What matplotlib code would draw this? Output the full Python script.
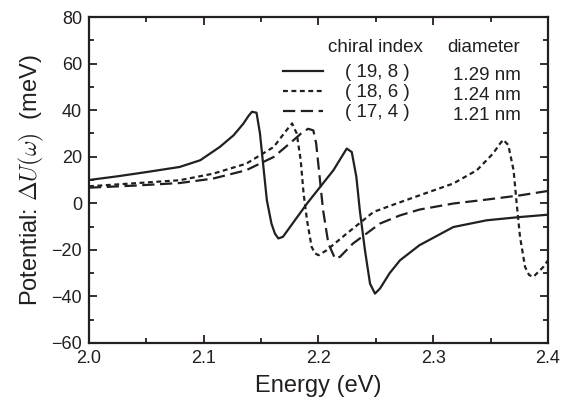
import matplotlib
matplotlib.use("Agg")
import matplotlib.pyplot as plt

plt.rcParams['font.family'] = ['Liberation Sans', 'DejaVu Sans']
plt.rcParams['mathtext.fontset'] = 'cm'

# (19, 8) - solid
e_198 = [2.000, 2.025, 2.050, 2.079, 2.097, 2.114, 2.126, 2.1345, 2.139, 2.142, 2.146,
         2.149, 2.152, 2.155, 2.159, 2.162, 2.165, 2.169, 2.190, 2.213, 2.2246, 2.229,
         2.233, 2.236, 2.2405, 2.2449, 2.2492, 2.2536, 2.262, 2.271, 2.288, 2.3175,
         2.3466, 2.3756, 2.400]
u_198 = [10.0, 11.6, 13.4, 15.6, 18.5, 24.2, 29.2, 34.2, 37.5, 39.3, 38.9,
         30.0, 15.6, 1.3, -8.7, -13.0, -15.1, -14.4, -0.1, 14.2, 23.5, 22.0,
         11.3, -3.0, -20.2, -34.5, -38.8, -36.6, -30.0, -24.5, -18.0, -10.2,
         -7.3, -5.9, -4.9]

# (18, 6) - dotted
e_186 = [2.000, 2.040, 2.079, 2.108, 2.137, 2.161, 2.172, 2.177, 2.181, 2.1845, 2.187,
         2.190, 2.194, 2.197, 2.200, 2.207, 2.2246, 2.248, 2.268, 2.288, 2.3175, 2.338,
         2.352, 2.358, 2.361, 2.3654, 2.370, 2.3727, 2.3756, 2.380, 2.3835, 2.3872,
         2.396, 2.400]
u_186 = [7.3, 8.6, 9.9, 12.7, 17.0, 24.2, 31.3, 34.3, 30.0, 18.5, 4.2,
         -7.3, -18.7, -21.5, -22.3, -20.2, -13.0, -3.7, -0.1, 3.4, 8.5, 14.2,
         21.3, 25.5, 27.3, 25.0, 14.2, -0.1, -14.4, -27.3, -30.8, -31.6,
         -27.3, -24.5]

# (17, 4) - dashed
e_174 = [2.000, 2.040, 2.079, 2.108, 2.137, 2.161, 2.178, 2.186, 2.191, 2.1955, 2.198,
         2.201, 2.204, 2.2086, 2.2144, 2.2187, 2.230, 2.2536, 2.271, 2.288, 2.3175,
         2.3466, 2.3756, 2.400]
u_174 = [6.7, 7.6, 8.7, 10.6, 14.2, 19.9, 27.0, 30.5, 32.0, 31.3, 25.6,
         11.3, -3.0, -17.3, -23.7, -23.0, -17.3, -8.7, -5.2, -2.7, -0.1,
         1.6, 3.4, 5.3]

chiral = ['( 19, 8 )', '( 18, 6 )', '( 17, 4 )']
diam = ['1.29 nm', '1.24 nm', '1.21 nm']

ink = '#231f20'
lw = 1.6
styles = ['-', (0, (2.2, 1.6)), (0, (5.5, 2.5))]

fig = plt.figure(figsize=(5.69, 4.12), dpi=100)
ax = fig.add_axes([0.1564, 0.1675, 0.8067, 0.7912])

ax.plot(e_198, u_198, color=ink, lw=lw, ls=styles[0])
ax.plot(e_186, u_186, color=ink, lw=lw, ls=styles[1])
ax.plot(e_174, u_174, color=ink, lw=lw, ls=styles[2])

ax.set_xlim(2.0, 2.4)
ax.set_ylim(-60, 80)
ax.set_xticks([2.0, 2.1, 2.2, 2.3, 2.4])
ax.set_xticklabels(['2.0', '2.1', '2.2', '2.3', '2.4'])
ax.set_yticks(range(-60, 81, 20))
ax.set_xticks([2.05, 2.15, 2.25, 2.35], minor=True)
ax.set_yticks(range(-50, 80, 20), minor=True)
ax.tick_params(which='both', direction='in', top=True, right=True,
               labelsize=13, colors=ink, width=1.3)
ax.tick_params(which='major', length=6, pad=5)
ax.tick_params(which='minor', length=3.5)
for s in ax.spines.values():
    s.set_linewidth(1.6)
    s.set_color(ink)

ax.set_xlabel('Energy (eV)', fontsize=17, color=ink, labelpad=6)
ax.set_ylabel(r'Potential: $\Delta U(\omega)$  (meV)', fontsize=17, color=ink, labelpad=4)

# legend block
def fx(px):
    return (px - 89) / 459.0

def fy(py):
    return (343 - py) / 326.0

ax.text(fx(375), fy(47), 'chiral index', transform=ax.transAxes, ha='center',
        va='center', fontsize=13.5, color=ink)
ax.text(fx(484), fy(47), 'diameter', transform=ax.transAxes, ha='center',
        va='center', fontsize=13.5, color=ink)
rows_y = [71, 91, 111]
for i in range(3):
    ax.plot([fx(283), fx(323)], [fy(rows_y[i]), fy(rows_y[i])], transform=ax.transAxes,
            color=ink, lw=lw, ls=styles[i])
    ax.text(fx(377), fy(rows_y[i] + 1), chiral[i], transform=ax.transAxes, ha='center',
            va='center', fontsize=13.5, color=ink)
    ax.text(fx(487), fy(rows_y[i] + 4), diam[i], transform=ax.transAxes, ha='center',
            va='center', fontsize=13.5, color=ink)

fig.savefig('out.png', dpi=100)
